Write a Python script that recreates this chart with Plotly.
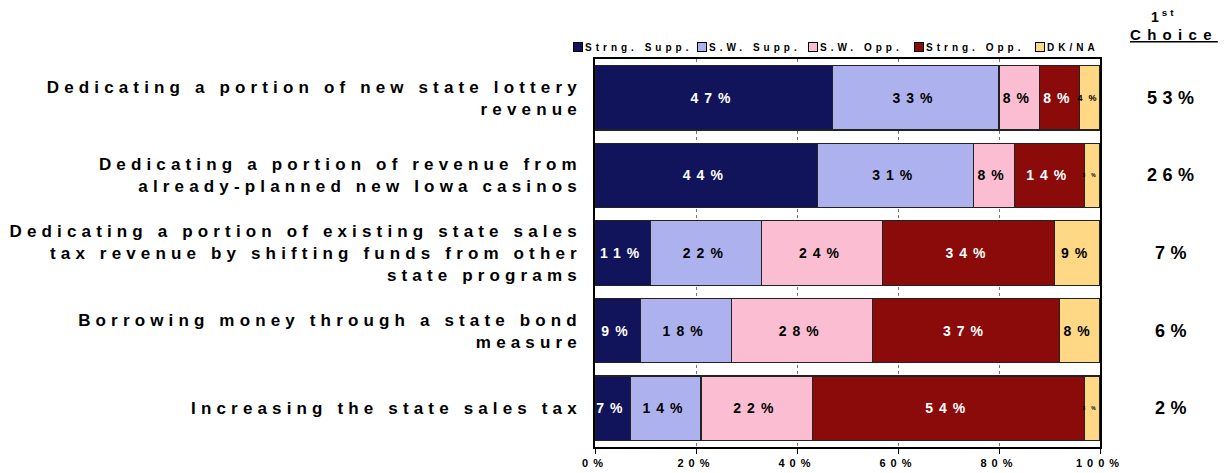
import plotly.graph_objects as go

# survey data (percent), top row first
categories = [
    "Dedicating a portion of new state lottery<br>revenue",
    "Dedicating a portion of revenue from<br>already-planned new Iowa casinos",
    "Dedicating a portion of existing state sales<br>tax revenue by shifting funds from other<br>state programs",
    "Borrowing money through a state bond<br>measure",
    "Increasing the state sales tax",
]
series_names = ["Strng. Supp.", "S.W. Supp.", "S.W. Opp.", "Strng. Opp.", "DK/NA"]
strong_support = [47, 44, 11, 9, 7]
sw_support = [33, 31, 22, 18, 14]
sw_oppose = [8, 8, 24, 28, 22]
strong_oppose = [8, 14, 34, 37, 54]
dk_na = [4, 3, 9, 8, 3]
first_choice = [53, 26, 7, 6, 2]
x_ticks = [0, 20, 40, 60, 80, 100]

colors = ["#11145A", "#ADB1EE", "#FBBDD1", "#8A0B09", "#FFD886"]
label_colors = ["white", "black", "black", "white", "black"]
legend_px = [573, 697, 808, 914, 1035]  # left edge of legend boxes (px)

FONT = "Arial, 'Liberation Sans', sans-serif"
W, H = 1228, 473
L, R, T, B = 595, 128, 59, 26
pw, ph = W - L - R, H - T - B

def px_x(p):
    return (p - L) / pw

def px_y(p):
    return (H - B - p) / ph

# rough Arial-bold advance widths, used to centre letter-spaced text
CW = {"%": 0.889, "C": 0.722, "h": 0.611, "o": 0.611, "i": 0.278, "c": 0.556, "e": 0.556}
def text_w(s, fs, ls):
    return sum(CW.get(ch, 0.556) for ch in s) * fs + (len(s) - 1) * ls

fig = go.Figure()
all_series = [strong_support, sw_support, sw_oppose, strong_oppose, dk_na]
for name, vals, col, lcol in zip(series_names, all_series, colors, label_colors):
    sizes = [14 if v >= 5 else (9 if v == 4 else 5) for v in vals]
    fig.add_bar(
        name=name, y=categories, x=vals, orientation="h",
        marker=dict(color=col, line=dict(color="#222222", width=1.2)),
        text=vals, texttemplate="%{x}%", textposition="inside",
        insidetextanchor="middle", textangle=0,
        textfont=dict(family=FONT, size=sizes, color=lcol, weight="bold"),
        showlegend=False, hoverinfo="skip",
    )

# legend drawn as boxes + labels
for name, col, lx in zip(series_names, colors, legend_px):
    fig.add_annotation(xref="paper", yref="paper", x=px_x(lx), y=px_y(47),
                       xanchor="left", yanchor="middle", text=" ", showarrow=False,
                       width=8, height=8, bgcolor=col, bordercolor="black",
                       borderwidth=1, borderpad=0, font=dict(size=4))
    fig.add_annotation(xref="paper", yref="paper", x=px_x(lx + 11), y=px_y(47),
                       xanchor="left", yanchor="middle", align="left", text=name,
                       showarrow=False, borderpad=0,
                       font=dict(family=FONT, size=10, color="black", weight="bold"))

# 1st choice column
fig.add_annotation(xref="paper", yref="paper", x=px_x(1150), y=px_y(16),
                   xanchor="left", yanchor="middle", align="left", borderpad=0,
                   text="1<sup>st</sup>", showarrow=False,
                   font=dict(family=FONT, size=14, color="black", weight="bold"))
fig.add_annotation(xref="paper", yref="paper", x=px_x(1129), y=px_y(34),
                   xanchor="left", yanchor="middle", align="left", borderpad=0,
                   text="<u>Choice</u>", showarrow=False,
                   font=dict(family=FONT, size=15, color="black", weight="bold"))
for cat, v in zip(categories, first_choice):
    s = f"{v}%"
    fig.add_annotation(xref="paper", yref="y", x=px_x(1170 - text_w(s, 18, 5.5) / 2), y=cat,
                       xanchor="left", yanchor="middle", align="left", borderpad=0,
                       text=s, showarrow=False,
                       font=dict(family=FONT, size=18, color="black", weight="bold"))

fig.update_layout(
    barmode="stack", bargap=0.17,
    width=W, height=H,
    margin=dict(l=L, r=R, t=T, b=B, autoexpand=False),
    paper_bgcolor="white", plot_bgcolor="white",
    font=dict(family=FONT, color="black"),
)
fig.update_xaxes(
    range=[0, 100], tickvals=x_ticks, ticktext=[f"{t}%" for t in x_ticks],
    showgrid=True, gridcolor="#777777", griddash="dot", gridwidth=1,
    showline=True, linecolor="black", linewidth=1.5, mirror=True,
    ticks="outside", ticklen=5, tickcolor="black",
    tickfont=dict(family=FONT, size=11, color="black", weight="bold"),
    zeroline=False, fixedrange=True, automargin=False,
)
fig.update_yaxes(
    categoryorder="array", categoryarray=categories[::-1],
    showline=True, linecolor="black", linewidth=1.5, mirror=True,
    ticks="outside", ticklen=8, tickcolor="rgba(0,0,0,0)",
    tickfont=dict(family=FONT, size=17, color="black", weight="bold"),
    showgrid=False, fixedrange=True, automargin=False,
)

css = """
body { margin: 0; }
.ytick text { letter-spacing: 5.15px; }
.xtick text { letter-spacing: 5px; }
text.bartext { letter-spacing: 6px; }
.annotation-text[style*="font-size: 10px"] { letter-spacing: 4px; }
.annotation-text[style*="font-size: 14px"] { letter-spacing: 3px; }
.annotation-text[style*="font-size: 15px"] { letter-spacing: 6.3px; }
.annotation-text[style*="font-size: 18px"] { letter-spacing: 5.5px; }
"""
post = "var s=document.createElement('style');s.innerHTML=`" + css + "`;document.head.appendChild(s);"

fig.write_html("out.html", post_script=post, config={"displayModeBar": False})
